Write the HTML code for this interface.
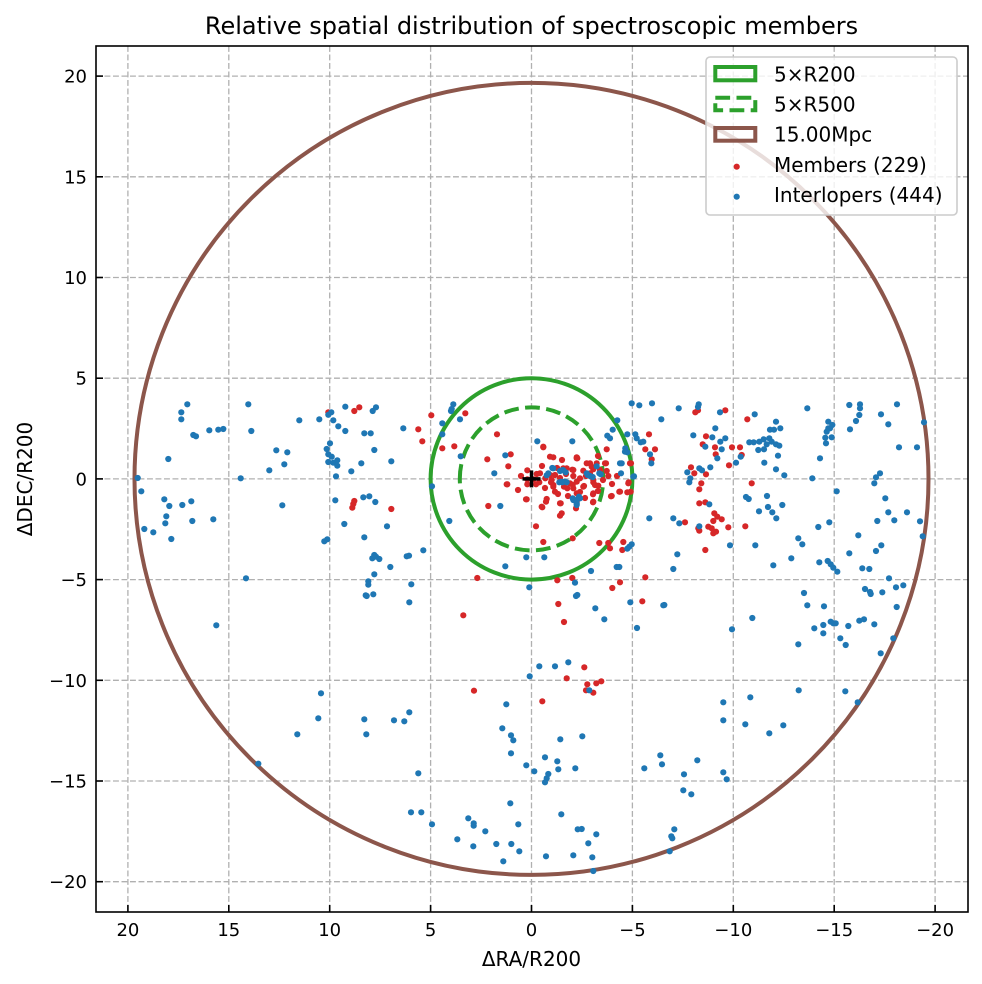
<!DOCTYPE html>
<html><head><meta charset="utf-8"><style>
html,body{margin:0;padding:0;background:#fff;}
svg{display:block;font-family:"DejaVu Sans","Liberation Sans",sans-serif;}
</style></head><body>
<svg width="982" height="984" viewBox="0 0 982 984" xmlns="http://www.w3.org/2000/svg">
<rect x="0" y="0" width="982" height="984" fill="#fff"/>
<!-- grid -->
<g stroke="#b0b0b0" stroke-width="1.3" stroke-dasharray="5.9 2.6" fill="none">
<line x1="127.9" y1="46" x2="127.9" y2="912"/>
<line x1="228.8" y1="46" x2="228.8" y2="912"/>
<line x1="329.7" y1="46" x2="329.7" y2="912"/>
<line x1="430.6" y1="46" x2="430.6" y2="912"/>
<line x1="531.5" y1="46" x2="531.5" y2="912"/>
<line x1="632.4" y1="46" x2="632.4" y2="912"/>
<line x1="733.3" y1="46" x2="733.3" y2="912"/>
<line x1="834.2" y1="46" x2="834.2" y2="912"/>
<line x1="935.1" y1="46" x2="935.1" y2="912"/>
<line x1="96" y1="76.1" x2="968" y2="76.1"/>
<line x1="96" y1="176.8" x2="968" y2="176.8"/>
<line x1="96" y1="277.5" x2="968" y2="277.5"/>
<line x1="96" y1="378.2" x2="968" y2="378.2"/>
<line x1="96" y1="478.9" x2="968" y2="478.9"/>
<line x1="96" y1="579.6" x2="968" y2="579.6"/>
<line x1="96" y1="680.3" x2="968" y2="680.3"/>
<line x1="96" y1="781" x2="968" y2="781"/>
<line x1="96" y1="881.7" x2="968" y2="881.7"/>
</g>
<!-- circles -->
<ellipse cx="531.5" cy="478.9" rx="397" ry="396" fill="none" stroke="#8c564b" stroke-width="4"/>
<ellipse cx="531.5" cy="478.9" rx="100.9" ry="100.7" fill="none" stroke="#2ca02c" stroke-width="4"/>
<path d="M459.8,478.9 A71.7,71.5 0 0 1 603.2,478.9 A71.7,71.5 0 0 1 459.8,478.9" fill="none" stroke="#2ca02c" stroke-width="4" stroke-dasharray="14.8 6.4"/>
<!-- members -->
<g fill="#d62728">
<circle cx="354.3" cy="411" r="3.1"/><circle cx="359.3" cy="407.3" r="3.1"/><circle cx="328.3" cy="412.3" r="3.1"/><circle cx="352.3" cy="507.7" r="3.1"/><circle cx="353.3" cy="504" r="3.1"/><circle cx="354.3" cy="501" r="3.1"/><circle cx="391.3" cy="509" r="3.1"/>
<circle cx="431.3" cy="415.3" r="3.1"/><circle cx="465.3" cy="413.3" r="3.1"/><circle cx="418.3" cy="429.3" r="3.1"/><circle cx="422.3" cy="441.3" r="3.1"/><circle cx="442.3" cy="448.3" r="3.1"/><circle cx="454.3" cy="446.3" r="3.1"/><circle cx="497" cy="434.3" r="3.1"/><circle cx="543.3" cy="447.3" r="3.1"/><circle cx="487.3" cy="459.3" r="3.1"/><circle cx="510.7" cy="454.3" r="3.1"/><circle cx="508.3" cy="466.3" r="3.1"/><circle cx="507.3" cy="484.3" r="3.1"/><circle cx="527.3" cy="470.3" r="3.1"/><circle cx="536.7" cy="474" r="3.1"/><circle cx="539.3" cy="482.3" r="3.1"/><circle cx="553.3" cy="457.3" r="3.1"/><circle cx="577.3" cy="458.3" r="3.1"/><circle cx="606.7" cy="449.3" r="3.1"/><circle cx="606" cy="463.3" r="3.1"/><circle cx="590" cy="463.3" r="3.1"/><circle cx="593.3" cy="469.3" r="3.1"/><circle cx="583.3" cy="470.7" r="3.1"/><circle cx="563.3" cy="468.3" r="3.1"/><circle cx="572.3" cy="469.7" r="3.1"/><circle cx="573.3" cy="476" r="3.1"/><circle cx="572.7" cy="485" r="3.1"/><circle cx="580" cy="478.3" r="3.1"/><circle cx="584" cy="486" r="3.1"/><circle cx="593.3" cy="482.3" r="3.1"/><circle cx="598.3" cy="485.7" r="3.1"/><circle cx="608.3" cy="476" r="3.1"/><circle cx="606.7" cy="471" r="3.1"/><circle cx="631" cy="463.3" r="3.1"/><circle cx="649" cy="434.3" r="3.1"/><circle cx="645.3" cy="449.3" r="3.1"/><circle cx="655" cy="449.3" r="3.1"/><circle cx="651.7" cy="459.3" r="3.1"/><circle cx="628.7" cy="482.3" r="3.1"/><circle cx="630.7" cy="491.7" r="3.1"/><circle cx="627.3" cy="492.3" r="3.1"/><circle cx="619.3" cy="491.7" r="3.1"/><circle cx="611" cy="496.3" r="3.1"/><circle cx="593" cy="494.3" r="3.1"/><circle cx="593" cy="502.3" r="3.1"/><circle cx="576" cy="508.3" r="3.1"/><circle cx="567.3" cy="488.3" r="3.1"/><circle cx="553.3" cy="485" r="3.1"/><circle cx="555" cy="491.7" r="3.1"/><circle cx="546.7" cy="499" r="3.1"/><circle cx="546" cy="501.7" r="3.1"/><circle cx="560.7" cy="503.3" r="3.1"/><circle cx="561.7" cy="513.3" r="3.1"/><circle cx="560" cy="515.7" r="3.1"/><circle cx="542.3" cy="507.3" r="3.1"/><circle cx="526.7" cy="499.3" r="3.1"/><circle cx="488.3" cy="506" r="3.1"/><circle cx="536" cy="526.3" r="3.1"/><circle cx="543.3" cy="542" r="3.1"/><circle cx="572.7" cy="538.3" r="3.1"/><circle cx="599.3" cy="543" r="3.1"/><circle cx="608.3" cy="543" r="3.1"/><circle cx="610" cy="548.3" r="3.1"/><circle cx="623.3" cy="542" r="3.1"/><circle cx="622.3" cy="550" r="3.1"/><circle cx="477.3" cy="578" r="3.1"/><circle cx="557.3" cy="580.3" r="3.1"/><circle cx="572.3" cy="578" r="3.1"/><circle cx="620" cy="582.3" r="3.1"/><circle cx="612.3" cy="588" r="3.1"/><circle cx="645.3" cy="577.3" r="3.1"/><circle cx="642.3" cy="601.3" r="3.1"/><circle cx="558.3" cy="604" r="3.1"/><circle cx="564" cy="622" r="3.1"/><circle cx="463.3" cy="615.3" r="3.1"/><circle cx="533.3" cy="479.3" r="3.1"/><circle cx="527.3" cy="484.3" r="3.1"/><circle cx="536" cy="484.3" r="3.1"/><circle cx="545.3" cy="478.3" r="3.1"/><circle cx="550" cy="475" r="3.1"/><circle cx="551" cy="482.3" r="3.1"/><circle cx="555" cy="475" r="3.1"/>
<circle cx="527.3" cy="479.3" r="3.1"/><circle cx="526" cy="499.3" r="3.1"/><circle cx="540" cy="473.3" r="3.1"/><circle cx="551.7" cy="480" r="3.1"/><circle cx="553.3" cy="486.7" r="3.1"/><circle cx="564" cy="486.7" r="3.1"/><circle cx="570" cy="483.3" r="3.1"/><circle cx="573.3" cy="488.3" r="3.1"/><circle cx="576.7" cy="493.3" r="3.1"/><circle cx="566.7" cy="468.3" r="3.1"/><circle cx="573.3" cy="470" r="3.1"/><circle cx="576.7" cy="458.3" r="3.1"/><circle cx="586.7" cy="463.3" r="3.1"/><circle cx="591.7" cy="466.7" r="3.1"/><circle cx="590" cy="473.3" r="3.1"/><circle cx="593.3" cy="480" r="3.1"/><circle cx="595" cy="485" r="3.1"/><circle cx="596.7" cy="463.3" r="3.1"/><circle cx="605" cy="463.3" r="3.1"/><circle cx="583.3" cy="486.7" r="3.1"/><circle cx="593.3" cy="493.3" r="3.1"/><circle cx="560" cy="503.3" r="3.1"/><circle cx="541.7" cy="506.7" r="3.1"/><circle cx="576.7" cy="501.7" r="3.1"/><circle cx="593.3" cy="501.7" r="3.1"/><circle cx="611.7" cy="496" r="3.1"/><circle cx="620" cy="491.7" r="3.1"/><circle cx="628.3" cy="483.3" r="3.1"/><circle cx="630" cy="463.3" r="3.1"/><circle cx="550" cy="456.7" r="3.1"/><circle cx="543.3" cy="446.7" r="3.1"/><circle cx="576.7" cy="457.3" r="3.1"/><circle cx="576.7" cy="481.7" r="3.1"/><circle cx="506.7" cy="484.3" r="3.1"/><circle cx="560" cy="478" r="3.1"/><circle cx="566" cy="474" r="3.1"/><circle cx="586" cy="476" r="3.1"/><circle cx="600" cy="470" r="3.1"/><circle cx="580" cy="492" r="3.1"/><circle cx="557" cy="468" r="3.1"/><circle cx="603" cy="480" r="3.1"/>
<circle cx="545" cy="488" r="3.1"/><circle cx="558" cy="494" r="3.1"/><circle cx="568" cy="496" r="3.1"/><circle cx="585" cy="498" r="3.1"/><circle cx="598" cy="491" r="3.1"/><circle cx="612" cy="484" r="3.1"/><circle cx="617" cy="476" r="3.1"/><circle cx="542" cy="466" r="3.1"/><circle cx="521" cy="476" r="3.1"/><circle cx="518" cy="490" r="3.1"/><circle cx="562" cy="460" r="3.1"/><circle cx="598" cy="456" r="3.1"/>
<circle cx="695.3" cy="412.3" r="3.1"/><circle cx="698" cy="410.3" r="3.1"/><circle cx="725.3" cy="410.3" r="3.1"/><circle cx="747.3" cy="419.3" r="3.1"/><circle cx="706" cy="436.3" r="3.1"/><circle cx="702.7" cy="444.3" r="3.1"/><circle cx="715" cy="447.3" r="3.1"/><circle cx="715.7" cy="454.3" r="3.1"/><circle cx="732" cy="447.3" r="3.1"/><circle cx="740" cy="447.3" r="3.1"/><circle cx="741.7" cy="455" r="3.1"/><circle cx="729" cy="465.3" r="3.1"/><circle cx="691" cy="467.3" r="3.1"/><circle cx="694.3" cy="473.3" r="3.1"/><circle cx="706" cy="474.3" r="3.1"/><circle cx="701.3" cy="483.3" r="3.1"/><circle cx="699.3" cy="489.3" r="3.1"/><circle cx="751.7" cy="483.3" r="3.1"/><circle cx="699.3" cy="503.3" r="3.1"/><circle cx="705.3" cy="502.3" r="3.1"/><circle cx="685" cy="522.3" r="3.1"/><circle cx="698.3" cy="528.3" r="3.1"/><circle cx="699.3" cy="530.7" r="3.1"/><circle cx="708.3" cy="526.7" r="3.1"/><circle cx="711.7" cy="528.3" r="3.1"/><circle cx="713.3" cy="521" r="3.1"/><circle cx="714.3" cy="513.3" r="3.1"/><circle cx="717.3" cy="516.7" r="3.1"/><circle cx="716" cy="531.7" r="3.1"/><circle cx="713.3" cy="533.3" r="3.1"/><circle cx="721.7" cy="519.3" r="3.1"/><circle cx="728.3" cy="527.3" r="3.1"/><circle cx="745.3" cy="526.3" r="3.1"/><circle cx="705.3" cy="550" r="3.1"/>
<circle cx="474" cy="690.7" r="3.1"/><circle cx="542.3" cy="701.3" r="3.1"/><circle cx="566.7" cy="678.3" r="3.1"/><circle cx="584.3" cy="667.3" r="3.1"/><circle cx="587.3" cy="684.3" r="3.1"/><circle cx="586" cy="690.3" r="3.1"/><circle cx="593.3" cy="692.7" r="3.1"/><circle cx="596.3" cy="683.3" r="3.1"/><circle cx="601.3" cy="681.3" r="3.1"/>
</g>
<!-- interlopers -->
<g fill="#1f77b4">
<circle cx="187.3" cy="404.3" r="3.1"/><circle cx="181.3" cy="412.3" r="3.1"/><circle cx="181.3" cy="419.3" r="3.1"/><circle cx="248.3" cy="404.3" r="3.1"/><circle cx="209.3" cy="430.3" r="3.1"/><circle cx="218.3" cy="429.7" r="3.1"/><circle cx="223.3" cy="429" r="3.1"/><circle cx="193.3" cy="435" r="3.1"/><circle cx="196" cy="436.3" r="3.1"/><circle cx="251.3" cy="431" r="3.1"/><circle cx="168.3" cy="459" r="3.1"/><circle cx="299.3" cy="420.3" r="3.1"/><circle cx="319.3" cy="419.3" r="3.1"/><circle cx="331.3" cy="412.3" r="3.1"/><circle cx="328.3" cy="414.8" r="3.1"/><circle cx="333.3" cy="420.3" r="3.1"/><circle cx="345.3" cy="406.7" r="3.1"/><circle cx="338.3" cy="426.3" r="3.1"/><circle cx="345.3" cy="431" r="3.1"/><circle cx="364.3" cy="433.3" r="3.1"/><circle cx="370.7" cy="433.3" r="3.1"/><circle cx="372.7" cy="411" r="3.1"/><circle cx="376" cy="407.3" r="3.1"/><circle cx="374.3" cy="450" r="3.1"/><circle cx="361.3" cy="463.3" r="3.1"/><circle cx="351.3" cy="471.3" r="3.1"/><circle cx="391.3" cy="461.3" r="3.1"/><circle cx="276.3" cy="450.3" r="3.1"/><circle cx="287.3" cy="452.3" r="3.1"/><circle cx="284.3" cy="464.3" r="3.1"/><circle cx="269.3" cy="470.3" r="3.1"/><circle cx="330" cy="443.3" r="3.1"/><circle cx="326.7" cy="449" r="3.1"/><circle cx="328.3" cy="454.3" r="3.1"/><circle cx="331.7" cy="456.7" r="3.1"/><circle cx="328.3" cy="462" r="3.1"/><circle cx="333.3" cy="462.7" r="3.1"/><circle cx="337.3" cy="460.3" r="3.1"/><circle cx="337.3" cy="465.7" r="3.1"/><circle cx="336" cy="476.3" r="3.1"/><circle cx="137.7" cy="478" r="3.1"/><circle cx="240.7" cy="478.3" r="3.1"/><circle cx="141.3" cy="491.3" r="3.1"/><circle cx="164.3" cy="499.3" r="3.1"/><circle cx="169.3" cy="506" r="3.1"/><circle cx="182.3" cy="505" r="3.1"/><circle cx="191.3" cy="501.3" r="3.1"/><circle cx="166.3" cy="516.3" r="3.1"/><circle cx="165.3" cy="523.3" r="3.1"/><circle cx="192.3" cy="521" r="3.1"/><circle cx="213.3" cy="519.3" r="3.1"/><circle cx="144.3" cy="529" r="3.1"/><circle cx="153.3" cy="532.3" r="3.1"/><circle cx="171.3" cy="539" r="3.1"/><circle cx="282.3" cy="505.3" r="3.1"/><circle cx="335.3" cy="500.3" r="3.1"/><circle cx="363.3" cy="497.3" r="3.1"/><circle cx="369.3" cy="496.3" r="3.1"/><circle cx="375.3" cy="502" r="3.1"/><circle cx="344.3" cy="524" r="3.1"/><circle cx="387" cy="526.3" r="3.1"/><circle cx="364.3" cy="537.3" r="3.1"/><circle cx="324.3" cy="541.3" r="3.1"/><circle cx="327.3" cy="539.3" r="3.1"/><circle cx="374.3" cy="555" r="3.1"/><circle cx="372.3" cy="558.3" r="3.1"/><circle cx="379.3" cy="559" r="3.1"/><circle cx="376" cy="556.7" r="3.1"/><circle cx="390.3" cy="567" r="3.1"/><circle cx="374.3" cy="574.3" r="3.1"/><circle cx="368.3" cy="581.3" r="3.1"/><circle cx="368.3" cy="584.7" r="3.1"/><circle cx="365.7" cy="595.3" r="3.1"/><circle cx="366.7" cy="596" r="3.1"/><circle cx="373.3" cy="594.3" r="3.1"/><circle cx="246" cy="578.3" r="3.1"/><circle cx="216.3" cy="625.3" r="3.1"/>
<circle cx="453.3" cy="404.3" r="3.1"/><circle cx="451.7" cy="409" r="3.1"/><circle cx="451" cy="411" r="3.1"/><circle cx="460" cy="419.3" r="3.1"/><circle cx="442.3" cy="423.3" r="3.1"/><circle cx="403.3" cy="428.3" r="3.1"/><circle cx="442.3" cy="434.3" r="3.1"/><circle cx="460.7" cy="456.3" r="3.1"/><circle cx="432" cy="486.3" r="3.1"/><circle cx="494.3" cy="473.3" r="3.1"/><circle cx="505.3" cy="455.3" r="3.1"/><circle cx="537.3" cy="441.3" r="3.1"/><circle cx="572.3" cy="441.3" r="3.1"/><circle cx="500.3" cy="506" r="3.1"/><circle cx="449.3" cy="521" r="3.1"/><circle cx="423.3" cy="550.3" r="3.1"/><circle cx="406.7" cy="556.3" r="3.1"/><circle cx="409" cy="555.7" r="3.1"/><circle cx="411.3" cy="584.3" r="3.1"/><circle cx="409.3" cy="602.3" r="3.1"/><circle cx="505.3" cy="566.3" r="3.1"/><circle cx="526.3" cy="557.3" r="3.1"/><circle cx="544.3" cy="557.3" r="3.1"/><circle cx="529.3" cy="587.3" r="3.1"/><circle cx="575" cy="582.7" r="3.1"/><circle cx="576" cy="596" r="3.1"/><circle cx="577.3" cy="595" r="3.1"/><circle cx="591" cy="571" r="3.1"/><circle cx="595.3" cy="608.3" r="3.1"/><circle cx="604.3" cy="619.3" r="3.1"/><circle cx="637" cy="628" r="3.1"/><circle cx="630.3" cy="602.3" r="3.1"/><circle cx="663.3" cy="605.3" r="3.1"/><circle cx="616.7" cy="567" r="3.1"/><circle cx="619.3" cy="567" r="3.1"/><circle cx="627.3" cy="548.7" r="3.1"/><circle cx="629.3" cy="546.7" r="3.1"/><circle cx="631.7" cy="544.3" r="3.1"/><circle cx="649.3" cy="518.3" r="3.1"/><circle cx="631.7" cy="403.3" r="3.1"/><circle cx="639.3" cy="405.3" r="3.1"/><circle cx="652" cy="403.3" r="3.1"/><circle cx="661.3" cy="419.3" r="3.1"/><circle cx="617.3" cy="420.3" r="3.1"/><circle cx="612.7" cy="429.7" r="3.1"/><circle cx="607.3" cy="435.7" r="3.1"/><circle cx="610" cy="438.3" r="3.1"/><circle cx="627.3" cy="434.3" r="3.1"/><circle cx="635.3" cy="434.3" r="3.1"/><circle cx="636.7" cy="438.3" r="3.1"/><circle cx="640.7" cy="442.3" r="3.1"/><circle cx="643.3" cy="441.7" r="3.1"/><circle cx="625.3" cy="448.3" r="3.1"/><circle cx="627.3" cy="452.3" r="3.1"/><circle cx="650" cy="454.3" r="3.1"/><circle cx="651.3" cy="463.3" r="3.1"/><circle cx="620" cy="463.3" r="3.1"/><circle cx="621" cy="473.3" r="3.1"/><circle cx="634" cy="476.3" r="3.1"/><circle cx="596.7" cy="466.3" r="3.1"/><circle cx="587.7" cy="475" r="3.1"/><circle cx="590" cy="476" r="3.1"/><circle cx="592.7" cy="477" r="3.1"/><circle cx="600.7" cy="474.3" r="3.1"/><circle cx="546.7" cy="475.3" r="3.1"/><circle cx="552.3" cy="468" r="3.1"/><circle cx="560" cy="471" r="3.1"/><circle cx="563.3" cy="470.3" r="3.1"/><circle cx="565.7" cy="472.3" r="3.1"/><circle cx="559.3" cy="482.3" r="3.1"/><circle cx="562.3" cy="482.3" r="3.1"/><circle cx="566.7" cy="482.3" r="3.1"/><circle cx="572.7" cy="498.3" r="3.1"/><circle cx="576.7" cy="500" r="3.1"/><circle cx="579" cy="496.7" r="3.1"/><circle cx="576.7" cy="503.3" r="3.1"/>
<circle cx="548.3" cy="473.3" r="3.1"/><circle cx="553.3" cy="468.3" r="3.1"/><circle cx="562.7" cy="470" r="3.1"/><circle cx="565" cy="481.7" r="3.1"/><circle cx="561.7" cy="481.7" r="3.1"/><circle cx="586.7" cy="473.3" r="3.1"/><circle cx="599.3" cy="473.3" r="3.1"/><circle cx="573.3" cy="500" r="3.1"/><circle cx="576.7" cy="505" r="3.1"/><circle cx="580" cy="498.3" r="3.1"/><circle cx="621.7" cy="463.3" r="3.1"/><circle cx="633.3" cy="476.7" r="3.1"/><circle cx="625" cy="451.7" r="3.1"/>
<circle cx="678.7" cy="408.3" r="3.1"/><circle cx="698.7" cy="404.3" r="3.1"/><circle cx="698" cy="407" r="3.1"/><circle cx="720" cy="412.3" r="3.1"/><circle cx="754.7" cy="414.3" r="3.1"/><circle cx="715.3" cy="428.3" r="3.1"/><circle cx="693.3" cy="435.3" r="3.1"/><circle cx="712.3" cy="437.3" r="3.1"/><circle cx="725.3" cy="438.3" r="3.1"/><circle cx="720.3" cy="441.7" r="3.1"/><circle cx="705.3" cy="446.7" r="3.1"/><circle cx="721.7" cy="449.3" r="3.1"/><circle cx="717.3" cy="458.3" r="3.1"/><circle cx="710.3" cy="467.3" r="3.1"/><circle cx="699.3" cy="468.3" r="3.1"/><circle cx="702" cy="470.3" r="3.1"/><circle cx="687.3" cy="472.3" r="3.1"/><circle cx="689.3" cy="482.3" r="3.1"/><circle cx="690.3" cy="478.3" r="3.1"/><circle cx="736" cy="462.7" r="3.1"/><circle cx="740.7" cy="456.7" r="3.1"/><circle cx="749.3" cy="442.3" r="3.1"/><circle cx="753.7" cy="442.3" r="3.1"/><circle cx="759.3" cy="441.7" r="3.1"/><circle cx="763.7" cy="439.3" r="3.1"/><circle cx="766.7" cy="444.3" r="3.1"/><circle cx="769.3" cy="438.3" r="3.1"/><circle cx="771.7" cy="441.7" r="3.1"/><circle cx="770" cy="429.7" r="3.1"/><circle cx="774" cy="429.7" r="3.1"/><circle cx="776" cy="421.7" r="3.1"/><circle cx="780.3" cy="428.3" r="3.1"/><circle cx="776" cy="444.3" r="3.1"/><circle cx="779.3" cy="445.7" r="3.1"/><circle cx="758.3" cy="450" r="3.1"/><circle cx="764" cy="449.3" r="3.1"/><circle cx="778" cy="455.7" r="3.1"/><circle cx="764.3" cy="462.7" r="3.1"/><circle cx="776" cy="469.3" r="3.1"/><circle cx="784.3" cy="475.3" r="3.1"/><circle cx="807.3" cy="408.3" r="3.1"/><circle cx="828.3" cy="421.7" r="3.1"/><circle cx="830" cy="428.3" r="3.1"/><circle cx="826.7" cy="431.7" r="3.1"/><circle cx="825.3" cy="437.7" r="3.1"/><circle cx="826" cy="443.3" r="3.1"/><circle cx="831.7" cy="437.3" r="3.1"/><circle cx="832.3" cy="425" r="3.1"/><circle cx="828.3" cy="428.3" r="3.1"/><circle cx="820" cy="458.3" r="3.1"/><circle cx="812.3" cy="478.3" r="3.1"/><circle cx="849.3" cy="405" r="3.1"/><circle cx="860" cy="404.3" r="3.1"/><circle cx="860" cy="408.3" r="3.1"/><circle cx="859.3" cy="415" r="3.1"/><circle cx="856" cy="421" r="3.1"/><circle cx="850" cy="429.3" r="3.1"/><circle cx="881" cy="414.3" r="3.1"/><circle cx="888.3" cy="424.3" r="3.1"/><circle cx="897" cy="404.3" r="3.1"/><circle cx="924" cy="422.3" r="3.1"/><circle cx="899" cy="447.3" r="3.1"/><circle cx="917" cy="447.3" r="3.1"/><circle cx="876" cy="477.3" r="3.1"/><circle cx="874.3" cy="483.3" r="3.1"/><circle cx="880" cy="473.3" r="3.1"/><circle cx="836.7" cy="491.3" r="3.1"/><circle cx="885.3" cy="498.3" r="3.1"/><circle cx="888.3" cy="512.3" r="3.1"/><circle cx="907" cy="512.3" r="3.1"/><circle cx="894.3" cy="520.3" r="3.1"/><circle cx="877.3" cy="521" r="3.1"/><circle cx="920" cy="521.3" r="3.1"/><circle cx="922.7" cy="536.3" r="3.1"/><circle cx="858.3" cy="535.3" r="3.1"/><circle cx="881.3" cy="545.3" r="3.1"/><circle cx="876" cy="551" r="3.1"/><circle cx="849.3" cy="553.3" r="3.1"/><circle cx="862.3" cy="568.3" r="3.1"/><circle cx="869.3" cy="569" r="3.1"/><circle cx="889" cy="578.3" r="3.1"/><circle cx="896" cy="587.3" r="3.1"/><circle cx="903.3" cy="585.3" r="3.1"/><circle cx="865" cy="589" r="3.1"/><circle cx="870" cy="592" r="3.1"/><circle cx="870.7" cy="594" r="3.1"/><circle cx="882.3" cy="592.3" r="3.1"/><circle cx="896.7" cy="607" r="3.1"/><circle cx="829.3" cy="522.3" r="3.1"/><circle cx="818.3" cy="527" r="3.1"/><circle cx="798.3" cy="538.3" r="3.1"/><circle cx="802.3" cy="544.3" r="3.1"/><circle cx="791.3" cy="558.3" r="3.1"/><circle cx="819.3" cy="562.3" r="3.1"/><circle cx="827.7" cy="561" r="3.1"/><circle cx="830.7" cy="564.3" r="3.1"/><circle cx="833.3" cy="567.7" r="3.1"/><circle cx="837.3" cy="571.7" r="3.1"/><circle cx="773.3" cy="565.3" r="3.1"/><circle cx="755.3" cy="545.3" r="3.1"/><circle cx="730" cy="545.3" r="3.1"/><circle cx="759" cy="511.3" r="3.1"/><circle cx="768" cy="507" r="3.1"/><circle cx="772.3" cy="512.3" r="3.1"/><circle cx="776.3" cy="518.3" r="3.1"/><circle cx="782.3" cy="505" r="3.1"/><circle cx="767" cy="496" r="3.1"/><circle cx="746" cy="497" r="3.1"/><circle cx="748.7" cy="499" r="3.1"/><circle cx="709.3" cy="504.3" r="3.1"/><circle cx="673.3" cy="518.3" r="3.1"/><circle cx="679.3" cy="523.3" r="3.1"/><circle cx="699.3" cy="526.3" r="3.1"/><circle cx="677.3" cy="554.3" r="3.1"/><circle cx="673.3" cy="569" r="3.1"/><circle cx="664.3" cy="605" r="3.1"/><circle cx="732" cy="629.3" r="3.1"/><circle cx="752.3" cy="618" r="3.1"/><circle cx="804" cy="593" r="3.1"/><circle cx="807.3" cy="605.3" r="3.1"/><circle cx="824" cy="606.3" r="3.1"/><circle cx="814.3" cy="628.3" r="3.1"/><circle cx="823.3" cy="625" r="3.1"/><circle cx="823.3" cy="633.3" r="3.1"/><circle cx="830.7" cy="621.7" r="3.1"/><circle cx="833.3" cy="623.3" r="3.1"/><circle cx="835.7" cy="623.3" r="3.1"/><circle cx="848.3" cy="626" r="3.1"/><circle cx="859.3" cy="620.7" r="3.1"/><circle cx="864" cy="619.3" r="3.1"/><circle cx="874.3" cy="624.3" r="3.1"/><circle cx="840.3" cy="638.3" r="3.1"/><circle cx="845.7" cy="645" r="3.1"/><circle cx="798.3" cy="644.3" r="3.1"/><circle cx="893.3" cy="638.3" r="3.1"/><circle cx="880.7" cy="653.3" r="3.1"/>
<circle cx="321" cy="693.3" r="3.1"/><circle cx="318.3" cy="718.3" r="3.1"/><circle cx="297.3" cy="734.3" r="3.1"/><circle cx="258.3" cy="763.7" r="3.1"/><circle cx="364.3" cy="719.3" r="3.1"/><circle cx="366.3" cy="734.3" r="3.1"/><circle cx="394" cy="720.3" r="3.1"/>
<circle cx="539.3" cy="666.3" r="3.1"/><circle cx="555" cy="666.3" r="3.1"/><circle cx="568.3" cy="662.3" r="3.1"/><circle cx="529.7" cy="676.3" r="3.1"/><circle cx="506.3" cy="704.3" r="3.1"/><circle cx="409.3" cy="712.3" r="3.1"/><circle cx="404.3" cy="721.3" r="3.1"/><circle cx="502.3" cy="728.3" r="3.1"/><circle cx="511" cy="735.3" r="3.1"/><circle cx="513.3" cy="740.3" r="3.1"/><circle cx="511" cy="753.3" r="3.1"/><circle cx="560.3" cy="739.3" r="3.1"/><circle cx="582.3" cy="736.3" r="3.1"/><circle cx="545" cy="757.3" r="3.1"/><circle cx="557.3" cy="761.3" r="3.1"/><circle cx="558.3" cy="769.3" r="3.1"/><circle cx="575.3" cy="768.3" r="3.1"/><circle cx="526.3" cy="765.3" r="3.1"/><circle cx="534.3" cy="771.3" r="3.1"/><circle cx="548.3" cy="774" r="3.1"/><circle cx="546.7" cy="778.3" r="3.1"/><circle cx="545" cy="782.3" r="3.1"/><circle cx="418.3" cy="773.3" r="3.1"/><circle cx="644.3" cy="768.3" r="3.1"/><circle cx="660.3" cy="755.3" r="3.1"/><circle cx="662" cy="764.3" r="3.1"/><circle cx="510.3" cy="803.3" r="3.1"/><circle cx="561.3" cy="814.3" r="3.1"/><circle cx="411" cy="812.3" r="3.1"/><circle cx="421.3" cy="812.3" r="3.1"/><circle cx="432" cy="824.3" r="3.1"/><circle cx="468.3" cy="818.3" r="3.1"/><circle cx="473.7" cy="823.3" r="3.1"/><circle cx="473.7" cy="825.7" r="3.1"/><circle cx="485.3" cy="831.3" r="3.1"/><circle cx="457.3" cy="839.3" r="3.1"/><circle cx="473.3" cy="846.3" r="3.1"/><circle cx="496.3" cy="844" r="3.1"/><circle cx="511.3" cy="844" r="3.1"/><circle cx="519.3" cy="851.3" r="3.1"/><circle cx="503.3" cy="861.3" r="3.1"/><circle cx="518.3" cy="824.3" r="3.1"/><circle cx="577.7" cy="829.3" r="3.1"/><circle cx="581.7" cy="829" r="3.1"/><circle cx="596.3" cy="834.3" r="3.1"/><circle cx="588.3" cy="843.3" r="3.1"/><circle cx="573.3" cy="855.3" r="3.1"/><circle cx="546" cy="856.3" r="3.1"/><circle cx="592.3" cy="857.3" r="3.1"/><circle cx="593.3" cy="871" r="3.1"/><circle cx="589.3" cy="690.3" r="3.1"/>
<circle cx="723.3" cy="702.3" r="3.1"/><circle cx="723.3" cy="720.3" r="3.1"/><circle cx="750.3" cy="697.3" r="3.1"/><circle cx="745.3" cy="724.3" r="3.1"/><circle cx="769.3" cy="733.3" r="3.1"/><circle cx="783.3" cy="725.3" r="3.1"/><circle cx="798.7" cy="690.3" r="3.1"/><circle cx="845.3" cy="691.3" r="3.1"/><circle cx="857.7" cy="702.3" r="3.1"/><circle cx="697.3" cy="760.3" r="3.1"/><circle cx="684" cy="774.3" r="3.1"/><circle cx="683.3" cy="790.3" r="3.1"/><circle cx="691.3" cy="794.3" r="3.1"/><circle cx="723.3" cy="772.3" r="3.1"/><circle cx="726.7" cy="779.3" r="3.1"/><circle cx="674.3" cy="829.3" r="3.1"/><circle cx="671.3" cy="836.3" r="3.1"/><circle cx="672.3" cy="838.3" r="3.1"/><circle cx="669.7" cy="851.3" r="3.1"/>
</g>
<!-- center cross -->
<g stroke="#000" stroke-width="3.5">
<line x1="522.5" y1="478.9" x2="540.5" y2="478.9"/>
<line x1="531.5" y1="470.4" x2="531.5" y2="487.4"/>
</g>
<!-- spines -->
<rect x="96" y="46" width="872" height="866" fill="none" stroke="#000" stroke-width="1.6"/>
<!-- ticks -->
<g stroke="#000" stroke-width="1.6">
<line x1="127.9" y1="912" x2="127.9" y2="905"/><line x1="228.8" y1="912" x2="228.8" y2="905"/><line x1="329.7" y1="912" x2="329.7" y2="905"/><line x1="430.6" y1="912" x2="430.6" y2="905"/><line x1="531.5" y1="912" x2="531.5" y2="905"/><line x1="632.4" y1="912" x2="632.4" y2="905"/><line x1="733.3" y1="912" x2="733.3" y2="905"/><line x1="834.2" y1="912" x2="834.2" y2="905"/><line x1="935.1" y1="912" x2="935.1" y2="905"/>
<line x1="96" y1="76.1" x2="103" y2="76.1"/><line x1="96" y1="176.8" x2="103" y2="176.8"/><line x1="96" y1="277.5" x2="103" y2="277.5"/><line x1="96" y1="378.2" x2="103" y2="378.2"/><line x1="96" y1="478.9" x2="103" y2="478.9"/><line x1="96" y1="579.6" x2="103" y2="579.6"/><line x1="96" y1="680.3" x2="103" y2="680.3"/><line x1="96" y1="781" x2="103" y2="781"/><line x1="96" y1="881.7" x2="103" y2="881.7"/>
</g>
<g font-size="18" fill="#000" text-anchor="middle">
<text x="127.9" y="936">20</text><text x="228.8" y="936">15</text><text x="329.7" y="936">10</text><text x="430.6" y="936">5</text><text x="531.5" y="936">0</text><text x="632.4" y="936">−5</text><text x="733.3" y="936">−10</text><text x="834.2" y="936">−15</text><text x="935.1" y="936">−20</text>
</g>
<g font-size="18" fill="#000" text-anchor="end">
<text x="87" y="82.6">20</text><text x="87" y="183.3">15</text><text x="87" y="284">10</text><text x="87" y="384.7">5</text><text x="87" y="485.4">0</text><text x="87" y="586.1">−5</text><text x="87" y="686.8">−10</text><text x="87" y="787.5">−15</text><text x="87" y="888.2">−20</text>
</g>
<text x="531.5" y="966" font-size="20" text-anchor="middle" fill="#000">ΔRA/R200</text>
<text transform="translate(32,479) rotate(-90)" font-size="20" text-anchor="middle" fill="#000">ΔDEC/R200</text>
<text x="531.5" y="34" font-size="24" text-anchor="middle" fill="#000">Relative spatial distribution of spectroscopic members</text>
<!-- legend -->
<rect x="706" y="57" width="251" height="158" rx="4" ry="4" fill="#fff" fill-opacity="0.8" stroke="#cccccc" stroke-width="1.6"/>
<rect x="715.3" y="67" width="40" height="13.3" fill="none" stroke="#2ca02c" stroke-width="4"/>
<path d="M715.3,97.7 L755.3,97.7 L755.3,110.3 L715.3,110.3 Z" fill="none" stroke="#2ca02c" stroke-width="4" stroke-dasharray="14.8 6.4"/>
<rect x="715.3" y="128" width="40" height="12.7" fill="none" stroke="#8c564b" stroke-width="4"/>
<circle cx="736.7" cy="166.7" r="3.1" fill="#d62728"/>
<circle cx="736.7" cy="196.7" r="3.1" fill="#1f77b4"/>
<g font-size="20" fill="#000">
<text x="774" y="81.5">5×R200</text>
<text x="774" y="111.5">5×R500</text>
<text x="774" y="141.5">15.00Mpc</text>
<text x="774" y="172">Members (229)</text>
<text x="774" y="202">Interlopers (444)</text>
</g>
</svg>
</body></html>
